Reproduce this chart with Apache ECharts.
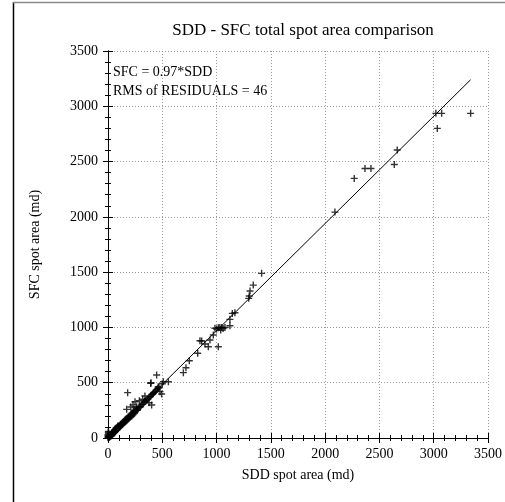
<!DOCTYPE html>
<html>
<head>
<meta charset="utf-8">
<script src="https://cdn.jsdelivr.net/npm/echarts@6/dist/echarts.min.js"></script>
<style>
  html, body { margin: 0; padding: 0; background: #fff; }
  #chart { width: 505px; height: 502px; }
</style>
</head>
<body>
<div id="chart"></div>
<script>
// SDD vs SFC spot areas (md)
const spotPoints = [
  [0, 10], [1, 20], [0, 30], [3, 50], [6, 40], [4, 60], [2, 5], [5, 3], [8, 12], [10, 6],
  [12, 15], [15, 10], [18, 22], [20, 14], [22, 30], [25, 18], [28, 35], [30, 25], [33, 20], [35, 40],
  [38, 30], [40, 45], [42, 36], [45, 52], [48, 40], [50, 58], [52, 46], [55, 60], [58, 50], [60, 70],
  [62, 55], [65, 75], [68, 60], [70, 80], [72, 65], [75, 90], [78, 70], [80, 85], [82, 95], [85, 78],
  [88, 100], [90, 82], [92, 110], [95, 88], [98, 105], [100, 95],
  [105, 110], [110, 100], [115, 125], [120, 112], [125, 130], [130, 120], [135, 140], [140, 128],
  [145, 150], [150, 138], [155, 160], [160, 148], [165, 170], [170, 155], [175, 178], [180, 165],
  [185, 190], [190, 175], [195, 200], [200, 185], [205, 205], [210, 195], [215, 215], [220, 200],
  [225, 225], [230, 210], [235, 240], [240, 220], [245, 250], [250, 235], [255, 245], [260, 255],
  [265, 260], [270, 250], [280, 270], [290, 280], [300, 285], [310, 300], [320, 305], [330, 320],
  [181, 410], [172, 259], [249, 328], [289, 337], [264, 283], [210, 280], [230, 300],
  [340, 330], [350, 340], [360, 345], [370, 355], [378, 319], [402, 298], [380, 370], [390, 375],
  [396, 500], [400, 390], [410, 395], [417, 404], [420, 410], [430, 415], [440, 425], [448, 570],
  [450, 440], [460, 450], [463, 464], [470, 455], [479, 419], [494, 398], [500, 490], [510, 509],
  [556, 509], [393, 494], [340, 380], [320, 350],
  [694, 591], [718, 636], [749, 699], [826, 766], [847, 880], [863, 877], [893, 850], [924, 825],
  [939, 886], [970, 931], [985, 992], [1000, 985], [1016, 997], [1030, 1000], [1038, 976],
  [1047, 1000], [1060, 990], [1077, 1000], [1016, 825], [1123, 1015], [1123, 1073], [1145, 1127],
  [1169, 1133],
  [1296, 1263], [1301, 1284], [1308, 1329], [1338, 1383], [1415, 1489],
  [2090, 2043], [2268, 2348], [2367, 2438], [2422, 2438], [2637, 2474], [2664, 2604],
  [3020, 2936], [3033, 2800], [3073, 2936], [3340, 2936]
];
// fit line SFC = 0.97*SDD, end points
const fitLine = [[0, 0], [3340, 3240]];
const axisMin = 0;
const axisMax = 3500;
const axisStep = 500;
const titleText = 'SDD - SFC total spot area comparison';
const noteLines = ['SFC = 0.97*SDD', 'RMS of RESIDUALS = 46'];

const serif = '"Liberation Serif", "DejaVu Serif", serif';
const chart = echarts.init(document.getElementById('chart'));

const tickCommon = {
  axisLine: { show: true, lineStyle: { color: '#000', width: 1 } },
  axisTick: { show: true, inside: true, length: 5, lineStyle: { color: '#000' } },
  minorTick: { show: true, splitNumber: 5, length: 3, lineStyle: { color: '#000' } }
};
const plainNum = (v) => String(v);

chart.setOption({
  animation: false,
  title: {
    text: titleText,
    left: 298, top: 17, textAlign: 'center',
    textStyle: { fontFamily: serif, fontSize: 17, fontWeight: 'normal', color: '#000' }
  },
  grid: { left: 108, right: 16, top: 51, bottom: 64 },
  xAxis: [
    Object.assign({
      type: 'value', min: axisMin, max: axisMax, interval: axisStep,
      name: 'SDD spot area (md)', nameLocation: 'middle', nameGap: 30,
      nameTextStyle: { fontFamily: serif, fontSize: 14, color: '#000' },
      axisLabel: { fontFamily: serif, fontSize: 14, color: '#000', margin: 9, formatter: plainNum },
      splitLine: { show: true, lineStyle: { color: '#999', type: [1, 2] } }
    }, tickCommon),
    Object.assign({
      type: 'value', position: 'top', min: axisMin, max: axisMax, interval: axisStep,
      axisLabel: { show: false }, splitLine: { show: false }
    }, tickCommon)
  ],
  yAxis: [
    Object.assign({
      type: 'value', min: axisMin, max: axisMax, interval: axisStep,
      name: 'SFC spot area (md)', nameLocation: 'middle', nameGap: 66, nameRotate: 90,
      nameTextStyle: { fontFamily: serif, fontSize: 14, color: '#000' },
      axisLabel: { fontFamily: serif, fontSize: 14, color: '#000', margin: 10, formatter: plainNum },
      splitLine: { show: true, lineStyle: { color: '#999', type: [1, 2] } }
    }, tickCommon),
    Object.assign({
      type: 'value', position: 'right', min: axisMin, max: axisMax, interval: axisStep,
      axisLabel: { show: false }, splitLine: { show: false }
    }, tickCommon)
  ],
  graphic: [
    { type: 'line', shape: { x1: 13.5, y1: 2, x2: 13.5, y2: 502 }, style: { stroke: '#000', lineWidth: 1.5 } },
    { type: 'line', shape: { x1: 13, y1: 2.5, x2: 505, y2: 2.5 }, style: { stroke: '#888', lineWidth: 1.5 } },
    { type: 'text', left: 113, top: 65, style: { text: noteLines[0], font: '14px ' + serif, fill: '#000' } },
    { type: 'text', left: 113, top: 84, style: { text: noteLines[1], font: '14px ' + serif, fill: '#000' } }
  ],
  series: [
    {
      type: 'scatter',
      data: spotPoints,
      symbol: 'path://M4,0H6V4H10V6H6V10H4V6H0V4H4Z',
      symbolSize: 7,
      itemStyle: { color: '#000' },
      z: 3
    },
    {
      type: 'line',
      data: fitLine,
      symbol: 'none',
      lineStyle: { color: '#000', width: 1 },
      z: 4
    }
  ]
});
</script>
</body>
</html>
